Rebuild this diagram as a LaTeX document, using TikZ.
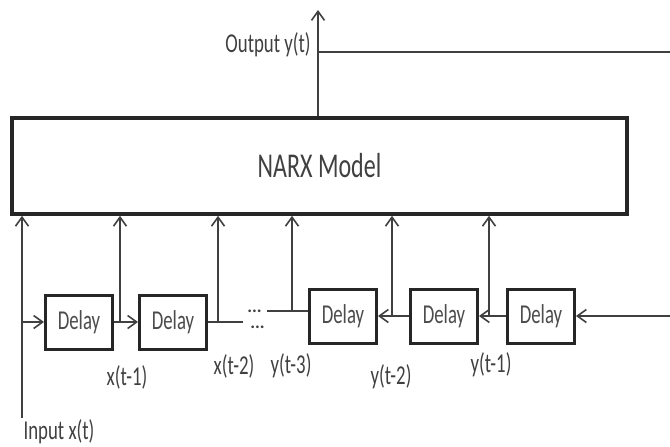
\documentclass[tikz,border=0pt]{standalone}
\usepackage{fontspec}
\setmainfont{Carlito}
\usepackage{graphicx}
\usetikzlibrary{positioning, arrows.meta}
\newcommand{\tallText}[1]{\scalebox{1}[1.45]{#1}}
\tikzset{
    model/.style={rectangle, draw=black!85, line width=1.8pt, fill=white, minimum width=307.5pt, minimum height=48pt, inner sep=0pt, font=\fontsize{12}{14}\selectfont, text=black!75},
    delaybox/.style={rectangle, draw=black!85, line width=1.5pt, fill=white, minimum width=33.5pt, minimum height=27pt, inner sep=0pt, font=\fontsize{9.4}{11}\selectfont, text=black!70},
    sig/.style={inner sep=0pt, font=\fontsize{9.4}{11}\selectfont, text=black!75},
    dots/.style={inner sep=0pt, align=left, font=\fontsize{9}{8}\selectfont\bfseries, text=black!75},
    arrow/.style={-{Straight Barb[length=4.5pt, width=6.5pt]}, line width=0.8pt, draw=black!75},
    wire/.style={line width=0.8pt, draw=black!75}
}
\begin{document}
\begin{tikzpicture}[x=0.5pt, y=-0.5pt]
        \useasboundingbox (0,0) rectangle (670,446);

        % Model
        \node[model] (narx) at (319.5,166) {\tallText{NARX Model}};

        % Output
        \coordinate (out) at (318,10);
        \coordinate (outEnd) at (670,52);
        \node[sig, anchor=east] (outLabel) at (311,45) {\tallText{Output y(t)}};
        \draw[arrow] (narx.north -| out) -- (out);
        \draw[wire] (out |- outEnd) -- (outEnd);

        % Input chain
        \coordinate (in) at (22,418);
        \node[delaybox] (D1) at (79,322) {\tallText{Delay}};
        \node[delaybox, right=12pt of D1] (D2) {\tallText{Delay}};
        \coordinate (x1) at (120,322);
        \coordinate (x2) at (218,322);
        \coordinate (xEnd) at (243,322);
        \node[dots] (gap) at (256,319) {...\\\hspace{1.5pt}...};

        % Feedback chain
        \node[delaybox] (D3) at (343,316) {\tallText{Delay}};
        \node[delaybox, right=15.5pt of D3] (D4) {\tallText{Delay}};
        \node[delaybox, right=13.5pt of D4] (D5) {\tallText{Delay}};
        \coordinate (yStart) at (267,311);
        \coordinate (y3) at (292,311);
        \coordinate (y2) at (392,316);
        \coordinate (y1) at (489,316);
        \coordinate (fb) at (670,316);

        % Labels
        \node[sig] (inLabel) at (59,432) {\tallText{Input x(t)}};
        \node[sig] (lx1) at (127,377) {\tallText{x(t-1)}};
        \node[sig] (lx2) at (234,366) {\tallText{x(t-2)}};
        \node[sig] (ly3) at (291,366) {\tallText{y(t-3)}};
        \node[sig] (ly2) at (391,377) {\tallText{y(t-2)}};
        \node[sig] (ly1) at (491,365) {\tallText{y(t-1)}};

        % Connections
        \draw[arrow] (in) -- (in |- narx.south);
        \draw[arrow] (in |- D1) -- (D1);
        \draw[arrow] (D1) -- (D2);
        \draw[arrow] (x1) -- (x1 |- narx.south);
        \draw[wire] (D2) -- (xEnd);
        \draw[arrow] (x2) -- (x2 |- narx.south);

        \draw[wire] (yStart) -- (yStart -| D3.west);
        \draw[arrow] (y3) -- (y3 |- narx.south);
        \draw[arrow] (fb) -- (D5);
        \draw[arrow] (D5) -- (D4);
        \draw[arrow] (D4) -- (D3);
        \draw[arrow] (y2) -- (y2 |- narx.south);
        \draw[arrow] (y1) -- (y1 |- narx.south);
    \end{tikzpicture}
\end{document}
